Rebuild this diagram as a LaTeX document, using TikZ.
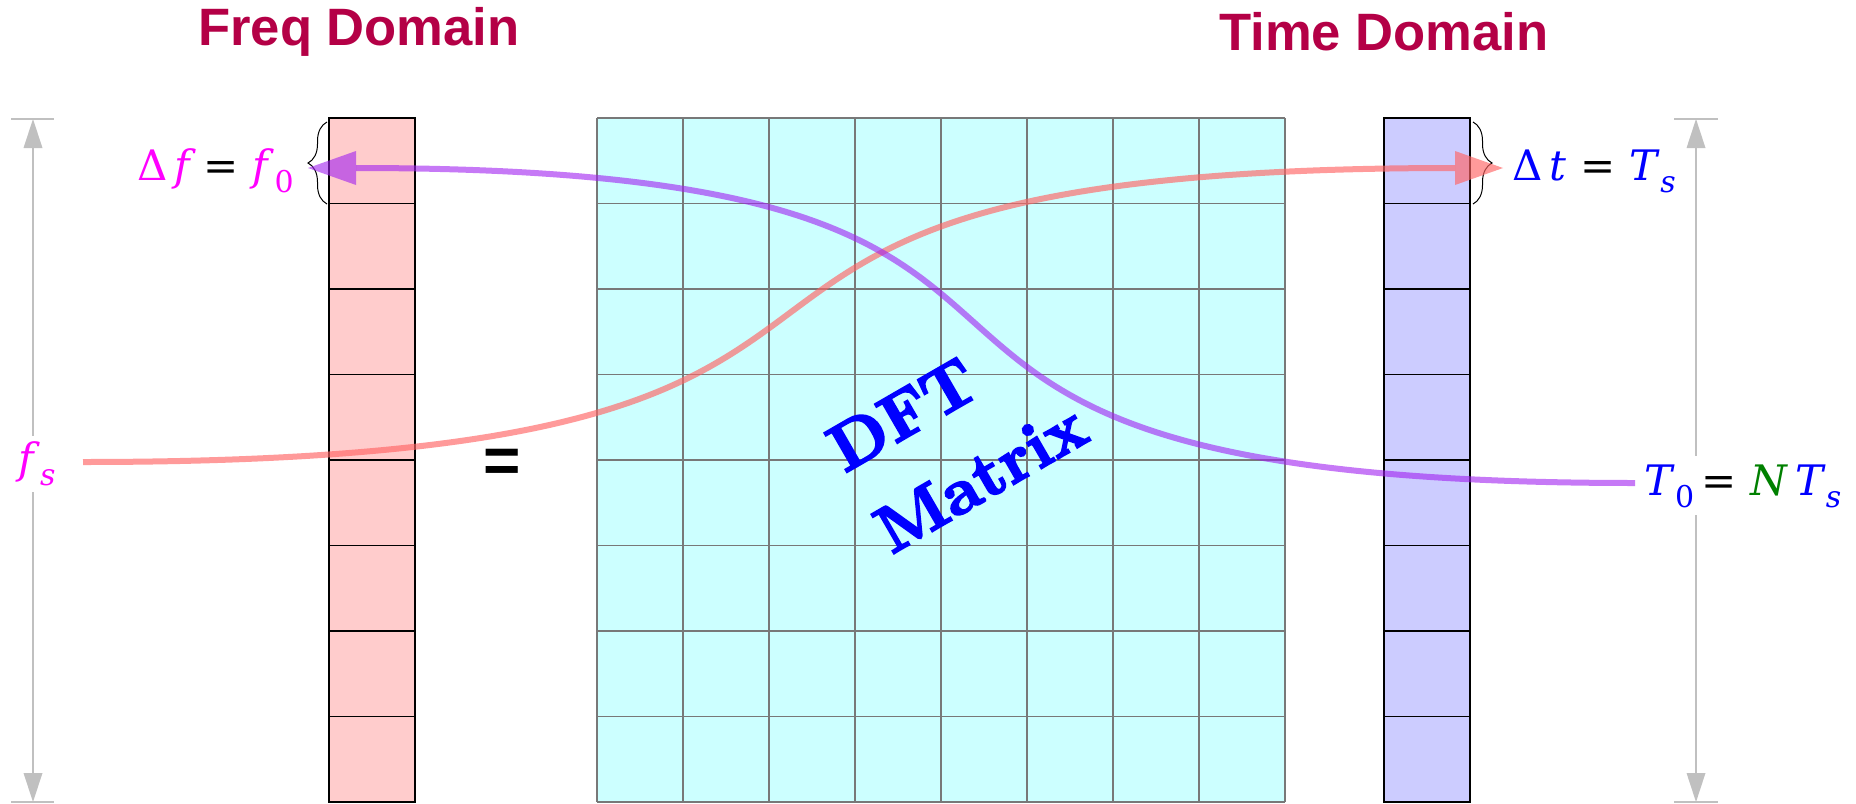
\documentclass[tikz,border=0pt]{standalone}
\usepackage{fontspec}
\newfontfamily\titlefont{Liberation Sans}
\newfontfamily\labfont{DejaVu Serif}
\newfontfamily\dftfont{lmroman10-bold}[Extension=.otf, FakeBold=3]
\usetikzlibrary{arrows.meta,decorations.pathreplacing}
\definecolor{titlec}{RGB}{180,0,70}
\definecolor{magc}{RGB}{255,0,255}
\definecolor{bluec}{RGB}{0,0,255}
\definecolor{greenc}{RGB}{0,128,0}
\definecolor{freqfill}{RGB}{255,204,204}
\definecolor{timefill}{RGB}{204,204,255}
\definecolor{matfill}{RGB}{204,255,255}
\definecolor{gridc}{RGB}{120,120,120}
\definecolor{dimc}{RGB}{192,192,192}
\definecolor{redc}{RGB}{255,100,100}
\definecolor{purc}{RGB}{160,32,240}
\tikzset{
  titlestyle/.style={font=\titlefont\bfseries\fontsize{26.3}{30}\selectfont, text=titlec, inner sep=0pt},
  labstyle/.style={font=\labfont\fontsize{21}{25}\selectfont, inner sep=3pt},
  fcell/.style={draw=black, fill=freqfill, line width=0.6pt},
  tcell/.style={draw=black, fill=timefill, line width=0.6pt},
  gridline/.style={draw=gridc, line width=0.6pt},
  dimline/.style={draw=dimc, line width=0.75pt},
  dimarrow/.style={draw=dimc, line width=0.75pt, {Triangle[length=14.5pt,width=9.5pt,fill=dimc,line width=0pt]}-{Triangle[length=14.5pt,width=9.5pt,fill=dimc,line width=0pt]}},
  bracestyle/.style={draw=black, line width=0.5pt, decorate, decoration={brace, amplitude=9.5pt}},
  redcurve/.style={draw=redc, opacity=0.65, line width=3pt, -{Triangle[length=24pt,width=17pt,fill=redc,line width=0pt]}},
  purcurve/.style={draw=purc, opacity=0.6, line width=3pt, -{Triangle[length=24pt,width=17pt,fill=purc,line width=0pt]}},
}
\newcommand{\subsc}[1]{\raisebox{-6pt}{\fontsize{15}{17}\selectfont #1}}
\begin{document}
\begin{tikzpicture}[x=0.5pt,y=-0.5pt]
\useasboundingbox (0,0) rectangle (1856,803);

% titles
\node[titlestyle] (ft) at (359,32) {Freq Domain};
\node[titlestyle] (tt) at (1384,32) {Time Domain};

% matrix
\fill[matfill] (597,118) rectangle (1285,802);
\foreach \i in {0,...,8} {
  \draw[gridline] ({597+86*\i},118) -- ({597+86*\i},802);
  \draw[gridline] (597,{118+85.5*\i}) -- (1285,{118+85.5*\i});
}

% frequency column
\foreach \i in {0,...,7} {
  \draw[fcell] (329,{118+85.5*\i}) rectangle ++(86,85.5);
}
% time column
\foreach \i in {0,...,7} {
  \draw[tcell] (1384,{118+85.5*\i}) rectangle ++(86,85.5);
}

% dimension lines
\coordinate (lt) at (33,119);
\coordinate (lb) at (33,802);
\coordinate (rt) at (1696,119);
\coordinate (rb) at (1696,802);
\draw[dimline] (11,119) -- (54,119);
\draw[dimline] (11,802) -- (54,802);
\draw[dimline] (1674,119) -- (1718,119);
\draw[dimline] (1674,802) -- (1718,802);
\draw[dimarrow] (lt) -- (lb);
\draw[dimarrow] (rt) -- (rb);

% braces
\draw[bracestyle] (327,204) -- (327,122);
\draw[bracestyle] (1473,122) -- (1473,204);

% equals sign
\node[font=\titlefont\bfseries\fontsize{32}{32}\selectfont, inner sep=0pt] (eq) at (502,466) {=};

% DFT Matrix
\node[rotate=30, align=left, text=bluec, inner sep=0pt,
      font=\dftfont\fontsize{33}{47}\selectfont] (dft) at (957,437) {DFT\\Matrix};

% labels
\node[labstyle, fill=white] (fs) at (37,464) {\color{magc}\textit{f}\subsc{\textit{s}}};
\node[labstyle, fill=white, anchor=base west, inner sep=4pt] (t0) at (1636,495)
  {\color{bluec}\textit{T}\subsc{0}\color{black}\,=\,\,\color{greenc}\textit{N}\,\color{bluec}\textit{T}\subsc{\textit{s}}};
\node[labstyle, anchor=base east] (df) at (300,180)
  {\color{magc}Δ\,\textit{f}\color{black}\,=\,\,\color{magc}\textit{f}\subsc{0}};
\node[labstyle, anchor=base west] (dt) at (1506,180)
  {\color{bluec}Δ\,\textit{t}\color{black}\,\,=\,\,\color{bluec}\textit{T}\subsc{\textit{s}}};

% curves
\coordinate (rs) at (83,462);
\coordinate (re) at (1503,168);
\coordinate (ps) at (1635,483);
\coordinate (pe) at (308,168);
\draw[redcurve] (rs) .. controls (1083,462) and (503,168) .. (re);
\draw[purcurve] (ps) .. controls (685,483) and (1258,168) .. (pe);
\end{tikzpicture}
\end{document}
